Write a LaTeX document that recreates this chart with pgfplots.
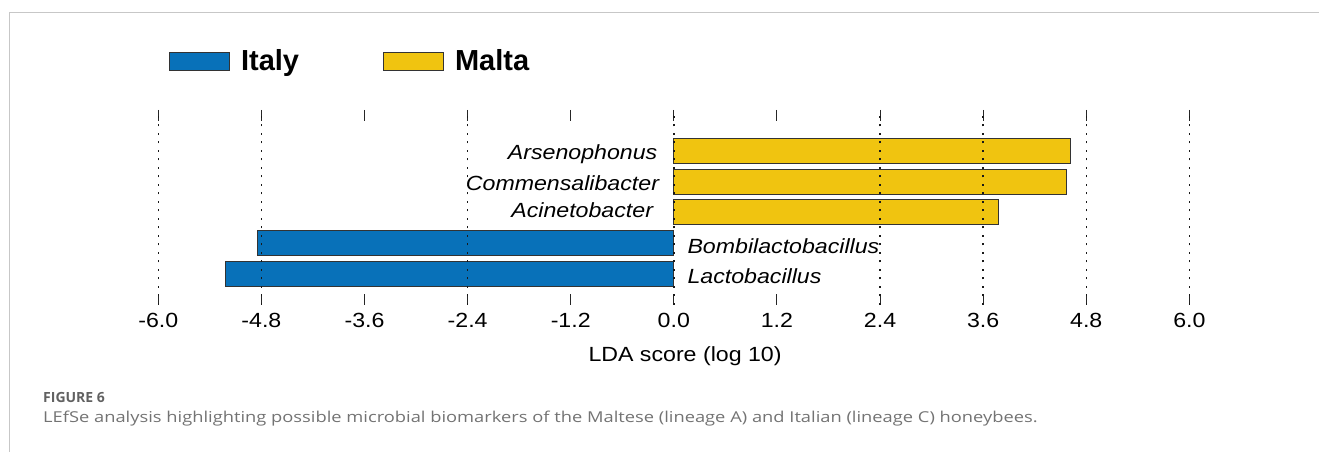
\documentclass[border=0pt]{standalone}
\usepackage{pgfplots}
\pgfplotsset{compat=1.18}
\usepackage{fontspec}
\setmainfont{Liberation Sans}[FakeStretch=1.13]
\newfontfamily\legfont{Liberation Sans}
\newfontfamily\capfont{Open Sans}
\newfontfamily\capwide{Open Sans}[FakeStretch=1.22]
\definecolor{italyblue}{HTML}{0871B9}
\definecolor{maltayellow}{HTML}{F0C410}
\newcommand\axfont{\fontsize{20.5bp}{24bp}\selectfont}
\pgfplotsset{sqleg/.style={legend image code/.code={\draw[##1] (0bp,0bp) rectangle (60bp,18bp);}}}
\begin{document}
\begin{tikzpicture}
\path[use as bounding box] (0,0) rectangle (1319bp,452bp);
\draw[black!22, line width=1.3bp] (9.5bp,0) -- (9.5bp,439.3bp) -- (1319bp,439.3bp);
\begin{axis}[
  at={(158.3bp,147bp)}, anchor=south west,
  scale only axis, width=1031bp, height=195bp,
  xmin=-6, xmax=6, ymin=0, ymax=6.32,
  axis on top,
  axis line style={draw=none},
  ytick=\empty,
  xtick={-6,-4.8,-3.6,-2.4,-1.2,0,1.2,2.4,3.6,4.8,6},
  xticklabels={-6.0,-4.8,-3.6,-2.4,-1.2,0.0,1.2,2.4,3.6,4.8,6.0},
  xticklabel style={font=\axfont, inner sep=0pt, yshift=-8bp},
  major tick length=11bp,
  tick style={black!85, line width=1bp},
  extra x ticks={-6,-4.8,-2.4,0,2.4,3.6,4.8,6},
  extra x tick labels={},
  extra x tick style={grid=major, major tick length=0pt},
  major grid style={black!90, line width=1.4bp, dash pattern=on 2bp off 6.5bp},
  clip=false,
  xlabel={LDA score (log 10)},
  xlabel style={font=\axfont, at={(axis description cs:0.5109,-0.2923)}, anchor=base, inner sep=0pt},
  legend columns=2,
  legend style={draw=none, fill=none, inner sep=0pt, outer sep=0pt,
    at={(axis description cs:0.0104,1.3118)}, anchor=north west,
    font=\legfont\bfseries\fontsize{29bp}{32bp}\selectfont,
    nodes={inner sep=0pt}, cells={anchor=base west},
    /tikz/every odd column/.append style={column sep=11bp},
    /tikz/every even column/.append style={column sep=84bp}},
]
\addplot[xbar, bar width=25bp, bar shift=0pt, fill=italyblue, draw=black!80, line width=1bp, sqleg]
  coordinates {(-5.22,1) (-4.84,2)};
\addlegendentry{Italy}
\addplot[xbar, bar width=25bp, bar shift=0pt, fill=maltayellow, draw=black!80, line width=1bp, sqleg]
  coordinates {(3.78,3) (4.565,4) (4.62,5)};
\addlegendentry{Malta}
\node[anchor=base east, inner sep=0pt, font=\axfont\itshape] at (axis cs:-0.19,4.722) {Arsenophonus};
\node[anchor=base east, inner sep=0pt, font=\axfont\itshape] at (axis cs:-0.17,3.727) {Commensalibacter};
\node[anchor=base east, inner sep=0pt, font=\axfont\itshape] at (axis cs:-0.24,2.842) {Acinetobacter};
\node[anchor=base west, inner sep=0pt, font=\axfont\itshape] at (axis cs:0.157,1.676) {Bombilactobacillus};
\node[anchor=base west, inner sep=0pt, font=\axfont\itshape] at (axis cs:0.157,0.703) {Lactobacillus};
\end{axis}
\node[anchor=base west, inner sep=0pt, font=\capfont\bfseries\fontsize{14bp}{16bp}\selectfont, text=black!62] at (43bp,49bp) {FIGURE 6};
\node[anchor=base west, inner sep=0pt, font=\capwide\fontsize{15bp}{18bp}\selectfont, text=black!55] at (43bp,30bp) {LEfSe analysis highlighting possible microbial biomarkers of the Maltese (lineage A) and Italian (lineage C) honeybees.};
\end{tikzpicture}
\end{document}
